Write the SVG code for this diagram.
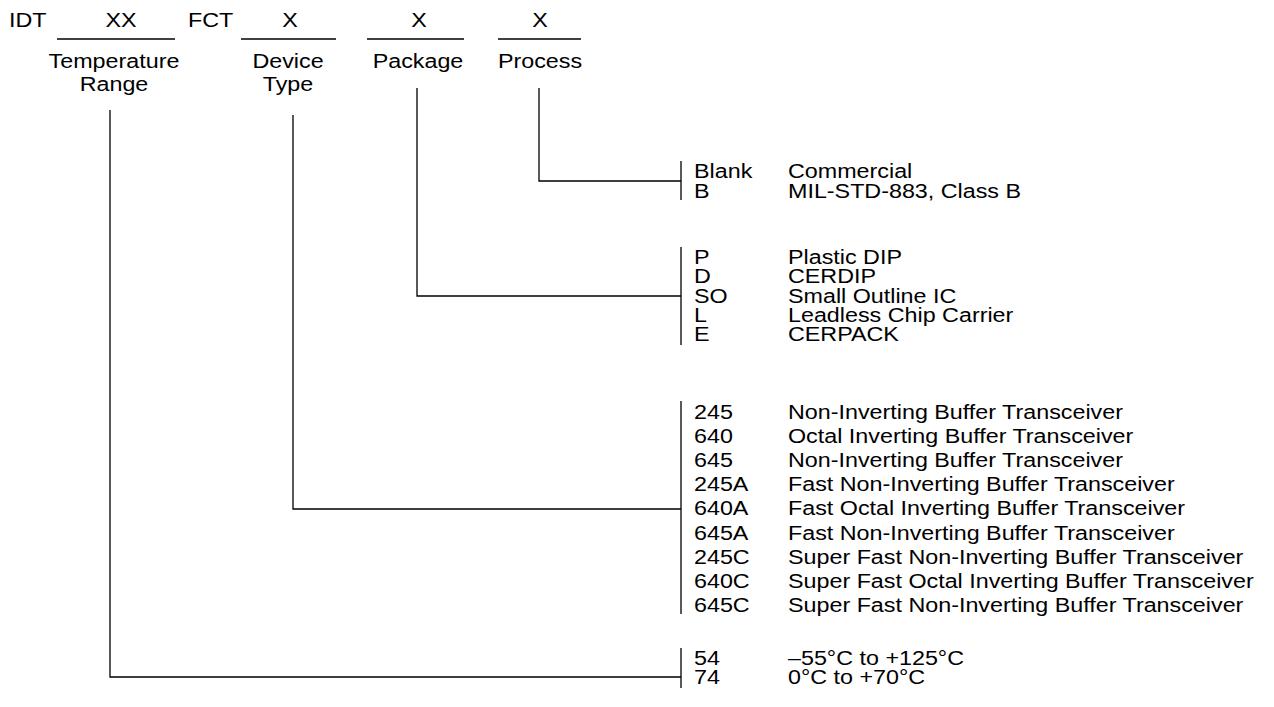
<svg xmlns="http://www.w3.org/2000/svg" width="1274" height="707" viewBox="0 0 1274 707">
<style>
text{font-family:"Liberation Sans",Arial,sans-serif;font-size:21px;fill:#000}
.c{text-anchor:middle}
.ln{stroke:#000;stroke-width:1.3;fill:none}
</style>
<rect width="1274" height="707" fill="#fff"/>
<g id="header">
<g transform="translate(9,0) scale(1.11,1)"><text x="0" y="27">IDT</text></g>
<g transform="translate(121,0) scale(1.11,1)"><text class="c" x="0" y="27">XX</text></g>
<g transform="translate(188,0) scale(1.11,1)"><text x="0" y="27">FCT</text></g>
<g transform="translate(290,0) scale(1.11,1)"><text class="c" x="0" y="27">X</text></g>
<g transform="translate(419,0) scale(1.11,1)"><text class="c" x="0" y="27">X</text></g>
<g transform="translate(540,0) scale(1.11,1)"><text class="c" x="0" y="27">X</text></g>
</g>
<g id="field-temperature">
<line class="ln" x1="57" y1="39" x2="175" y2="39"/>
<g transform="translate(114,0) scale(1.11,1)"><text class="c" x="0" y="68">Temperature</text><text class="c" x="0" y="91">Range</text></g>
</g>
<g id="field-device">
<line class="ln" x1="241" y1="39" x2="336" y2="39"/>
<g transform="translate(288,0) scale(1.11,1)"><text class="c" x="0" y="68">Device</text><text class="c" x="0" y="91">Type</text></g>
</g>
<g id="field-package">
<line class="ln" x1="367" y1="39" x2="464" y2="39"/>
<g transform="translate(418,0) scale(1.11,1)"><text class="c" x="0" y="68">Package</text></g>
</g>
<g id="field-process">
<line class="ln" x1="498" y1="39" x2="581" y2="39"/>
<g transform="translate(540,0) scale(1.11,1)"><text class="c" x="0" y="68">Process</text></g>
</g>
<g id="connectors">
<polyline class="ln" points="539,88 539,181 681,181"/>
<polyline class="ln" points="417,88 417,296 681,296"/>
<polyline class="ln" points="293,115 293,509 681,509"/>
<polyline class="ln" points="110,110 110,677 681,677"/>
</g>
<g id="options-process">
<line class="ln" x1="681" y1="161" x2="681" y2="200"/>
<g transform="translate(694,0) scale(1.11,1)"><text x="0" y="178">Blank</text><text x="0" y="198">B</text></g>
<g transform="translate(788,0) scale(1.11,1)"><text x="0" y="178">Commercial</text><text x="0" y="198">MIL-STD-883, Class B</text></g>
</g>
<g id="options-package">
<line class="ln" x1="681" y1="247" x2="681" y2="345"/>
<g transform="translate(694,0) scale(1.11,1)"><text x="0" y="264">P</text><text x="0" y="283">D</text><text x="0" y="303">SO</text><text x="0" y="322">L</text><text x="0" y="341">E</text></g>
<g transform="translate(788,0) scale(1.11,1)"><text x="0" y="264">Plastic DIP</text><text x="0" y="283">CERDIP</text><text x="0" y="303">Small Outline IC</text><text x="0" y="322">Leadless Chip Carrier</text><text x="0" y="341">CERPACK</text></g>
</g>
<g id="options-device">
<line class="ln" x1="681" y1="401" x2="681" y2="614"/>
<g transform="translate(694,0) scale(1.11,1)"><text x="0" y="419">245</text><text x="0" y="443">640</text><text x="0" y="467">645</text><text x="0" y="491">245A</text><text x="0" y="515">640A</text><text x="0" y="540">645A</text><text x="0" y="564">245C</text><text x="0" y="588">640C</text><text x="0" y="612">645C</text></g>
<g transform="translate(788,0) scale(1.11,1)"><text x="0" y="419">Non-Inverting Buffer Transceiver</text><text x="0" y="443">Octal Inverting Buffer Transceiver</text><text x="0" y="467">Non-Inverting Buffer Transceiver</text><text x="0" y="491">Fast Non-Inverting Buffer Transceiver</text><text x="0" y="515">Fast Octal Inverting Buffer Transceiver</text><text x="0" y="540">Fast Non-Inverting Buffer Transceiver</text><text x="0" y="564">Super Fast Non-Inverting Buffer Transceiver</text><text x="0" y="588">Super Fast Octal Inverting Buffer Transceiver</text><text x="0" y="612">Super Fast Non-Inverting Buffer Transceiver</text></g>
</g>
<g id="options-temperature">
<line class="ln" x1="681" y1="648" x2="681" y2="688"/>
<g transform="translate(694,0) scale(1.11,1)"><text x="0" y="665">54</text><text x="0" y="684">74</text></g>
<g transform="translate(788,0) scale(1.11,1)"><text x="0" y="665">–55°C to +125°C</text><text x="0" y="684">0°C to +70°C</text></g>
</g>
</svg>
